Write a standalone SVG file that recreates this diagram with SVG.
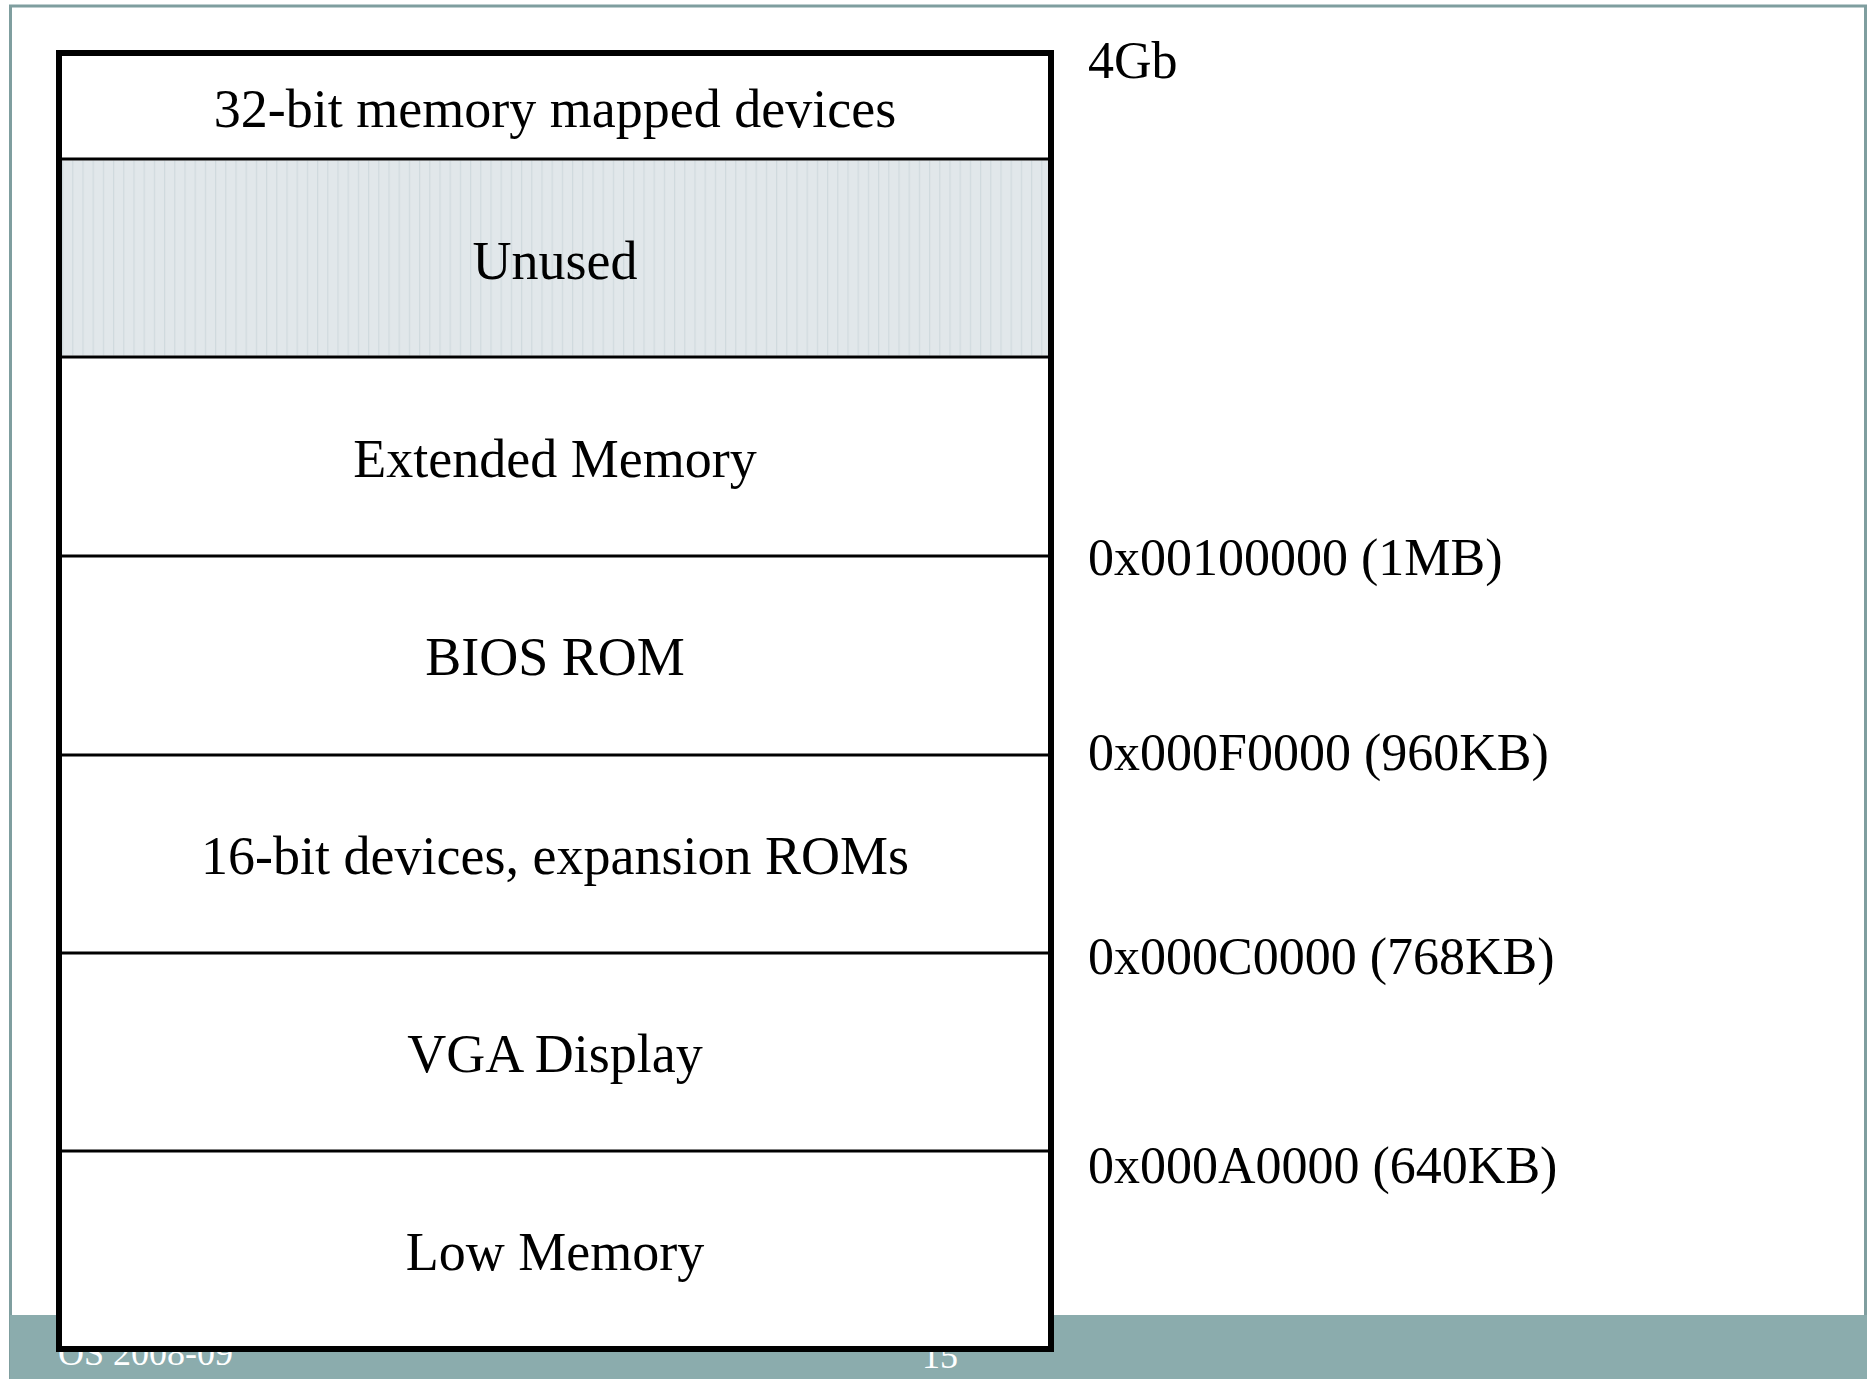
<svg xmlns="http://www.w3.org/2000/svg" width="1875" height="1379" viewBox="0 0 1875 1379">
<style>
.sec{font-family:"Liberation Serif","DejaVu Serif",serif;font-size:54px;fill:#000;text-anchor:middle}
.lbl{font-family:"Liberation Serif","DejaVu Serif",serif;font-size:52px;fill:#000}
.foot{font-family:"Liberation Serif","DejaVu Serif",serif;font-size:36px;fill:#fff}
.div{stroke:#000;stroke-width:3}
</style>
<defs>
<pattern id="stripes" x="62" y="0" width="10.2" height="10" patternUnits="userSpaceOnUse">
<rect width="10.2" height="10" fill="#E1E7EA"/>
<rect x="0" width="1.2" height="10" fill="#D0DADE"/>
</pattern>
</defs>
<rect width="1875" height="1379" fill="#fff"/>
<g id="slide-frame">
<path d="M10.5 1379 V6 H1865.5 V1379" fill="none" stroke="#7F9E9F" stroke-width="3"/>
<rect x="10" y="1315" width="1857" height="64" fill="#8BACAD"/>
<text class="foot" x="58" y="1365">OS 2008-09</text>
<text class="foot" x="940" y="1368" text-anchor="middle" font-size="44">15</text>
</g>
<g id="memory-map">
<rect x="59" y="53" width="992" height="1296" fill="#fff" stroke="none"/>
<g id="sec-32bit"><text class="sec" x="555" y="127">32-bit memory mapped devices</text></g>
<g id="sec-unused">
<rect x="61" y="160.5" width="988" height="195" fill="url(#stripes)"/>
<text class="sec" x="555" y="279">Unused</text>
</g>
<g id="sec-extended"><text class="sec" x="555" y="477">Extended Memory</text></g>
<g id="sec-bios"><text class="sec" x="555" y="675">BIOS ROM</text></g>
<g id="sec-16bit"><text class="sec" x="555" y="874">16-bit devices, expansion ROMs</text></g>
<g id="sec-vga"><text class="sec" x="555" y="1072">VGA Display</text></g>
<g id="sec-low"><text class="sec" x="555" y="1270">Low Memory</text></g>
</g>
<g id="connectors">
<line class="div" x1="59" y1="159" x2="1051" y2="159"/>
<line class="div" x1="59" y1="357" x2="1051" y2="357"/>
<line class="div" x1="59" y1="556" x2="1051" y2="556"/>
<line class="div" x1="59" y1="755" x2="1051" y2="755"/>
<line class="div" x1="59" y1="953" x2="1051" y2="953"/>
<line class="div" x1="59" y1="1151" x2="1051" y2="1151"/>
<rect x="59" y="53" width="992" height="1296" fill="none" stroke="#000" stroke-width="6"/>
</g>
<g id="addresses">
<text class="lbl" x="1088" y="78">4Gb</text>
<text class="lbl" x="1088" y="575">0x00100000 (1MB)</text>
<text class="lbl" x="1088" y="770">0x000F0000 (960KB)</text>
<text class="lbl" x="1088" y="974">0x000C0000 (768KB)</text>
<text class="lbl" x="1088" y="1183">0x000A0000 (640KB)</text>
</g>
</svg>
